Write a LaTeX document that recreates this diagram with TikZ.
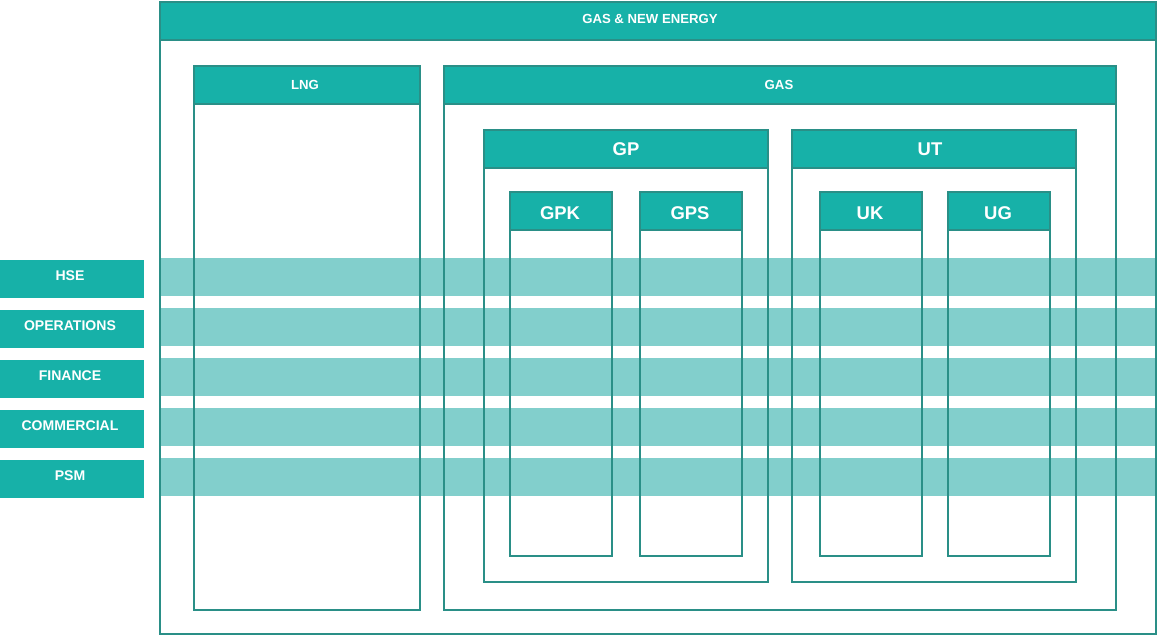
\documentclass[tikz,border=0pt]{standalone}
\usepackage{fontspec}
\setmainfont{Liberation Sans}
\definecolor{tealhead}{HTML}{17B1A8}
\definecolor{tealband}{HTML}{82CFCC}
\definecolor{tealline}{HTML}{2A8F87}

\begin{document}
\begin{tikzpicture}[x=0.02cm,y=-0.02cm,
  box/.style={draw=tealline, line width=1pt},
  head/.style={fill=tealhead, draw=tealline, line width=1pt},
  lbl/.style={text=white, font=\bfseries\fontsize{7.5}{9}\selectfont},
  sidelbl/.style={text=white, font=\bfseries\fontsize{8}{9}\selectfont},
  biglbl/.style={text=white, font=\bfseries\fontsize{10.5}{12}\selectfont}]
\useasboundingbox (0,0) rectangle (1158,636);

%bandes transversales
\foreach \y/\t [count=\i] in {258/HSE, 308/OPERATIONS, 358/FINANCE, 408/COMMERCIAL, 458/PSM}{
  \fill[tealband] (160,\y) rectangle (1156,\y+38);
  \fill[tealhead] (0,\y+2) rectangle (144,\y+40);
  \node[sidelbl] (fn\i) at (70,\y+18) {\t};
}

%cadre general
\draw[box] (160,2) rectangle (1156,634);
\draw[head] (160,2) rectangle (1156,40);
\node[lbl] (gne) at (650,19) {GAS \& NEW ENERGY};

%LNG et GAS
\draw[box] (194,66) rectangle (420,610);
\draw[head] (194,66) rectangle (420,104);
\node[lbl] (lng) at (305,85) {LNG};

\draw[box] (444,66) rectangle (1116,610);
\draw[head] (444,66) rectangle (1116,104);
\node[lbl] (gas) at (779,85) {GAS};

%GP et UT
\draw[box] (484,130) rectangle (768,582);
\draw[head] (484,130) rectangle (768,168);
\node[biglbl] (gp) at (626,149) {GP};

\draw[box] (792,130) rectangle (1076,582);
\draw[head] (792,130) rectangle (1076,168);
\node[biglbl] (ut) at (930,149) {UT};

%sous-unites
\foreach \x/\t in {510/GPK, 640/GPS, 820/UK, 948/UG}{
  \draw[box] (\x,192) rectangle (\x+102,556);
  \draw[head] (\x,192) rectangle (\x+102,230);
  \node[biglbl] (su\t) at (\x+50,213) {\t};
}

\end{tikzpicture}
\end{document}
